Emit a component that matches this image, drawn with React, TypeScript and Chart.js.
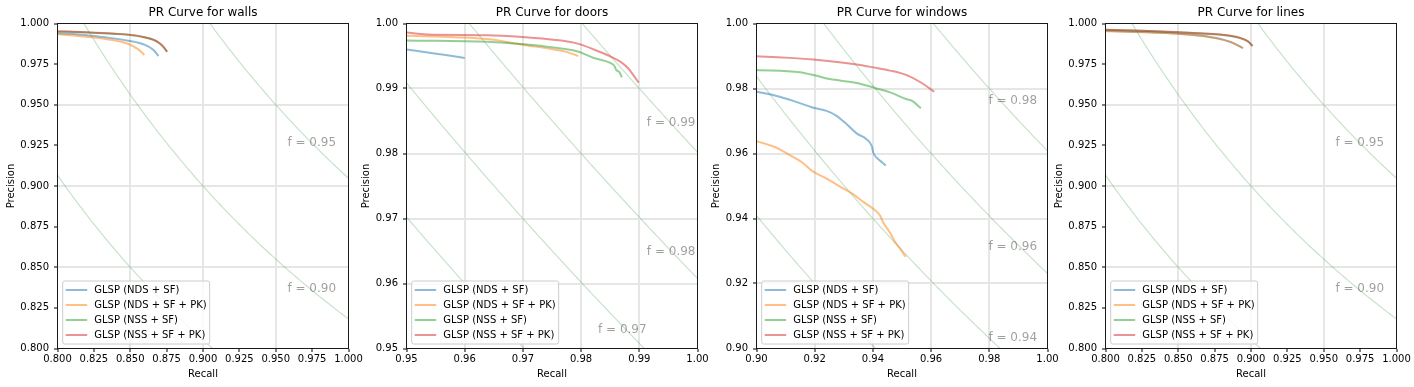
import React, { useEffect, useRef } from "react";
import { Chart, registerables } from "chart.js";

Chart.register(...registerables);

const FONT = "'DejaVu Sans', sans-serif";

const SERIES_LABELS = [
  "GLSP (NDS + SF)",
  "GLSP (NDS + SF + PK)",
  "GLSP (NSS + SF)",
  "GLSP (NSS + SF + PK)",
];
const SERIES_COLORS = [
  "rgba(31,119,180,0.5)",
  "rgba(255,127,14,0.5)",
  "rgba(44,160,44,0.5)",
  "rgba(214,39,40,0.5)",
];

// ---------- walls ----------
const wallsTicks = [0.8, 0.825, 0.85, 0.875, 0.9, 0.925, 0.95, 0.975, 1.0];
const wallsFScores = [0.85, 0.9, 0.95];
const wallsNdsSfRecall = [0.8, 0.82, 0.8327, 0.8487, 0.8602, 0.866, 0.8694];
const wallsNdsSfPrecision = [0.994, 0.9928, 0.9915, 0.9894, 0.9868, 0.9837, 0.98];
const wallsNdsSfPkRecall = [0.8, 0.82, 0.8327, 0.8487, 0.8556, 0.8598];
const wallsNdsSfPkPrecision = [0.9935, 0.9918, 0.9905, 0.9874, 0.9841, 0.9806];
const wallsNssSfRecall = [0.8, 0.82, 0.84, 0.85, 0.86, 0.866, 0.87, 0.873, 0.8755];
const wallsNssSfPrecision = [0.995, 0.9945, 0.9936, 0.9929, 0.9914, 0.9899, 0.9878, 0.9853, 0.9825];
const wallsNssSfPkRecall = [0.8, 0.82, 0.84, 0.85, 0.86, 0.866, 0.87, 0.873, 0.8752];
const wallsNssSfPkPrecision = [0.9952, 0.9946, 0.9937, 0.993, 0.9916, 0.99, 0.988, 0.9855, 0.9827];

// ---------- doors ----------
const doorsTicks = [0.95, 0.96, 0.97, 0.98, 0.99, 1.0];
const doorsFScores = [0.96, 0.97, 0.98, 0.99];
const doorsNdsSfRecall = [0.95, 0.9548, 0.957, 0.96];
const doorsNdsSfPrecision = [0.996, 0.9954, 0.9951, 0.9947];
const doorsNdsSfPkRecall = [0.95, 0.955, 0.9583, 0.9639, 0.9702, 0.9753, 0.9776, 0.9795];
const doorsNdsSfPkPrecision = [0.9981, 0.998, 0.9979, 0.9976, 0.9967, 0.996, 0.9956, 0.995];
const doorsNssSfRecall = [0.95, 0.9639, 0.9702, 0.9753, 0.9794, 0.9822, 0.9851, 0.9857, 0.986, 0.9866, 0.987];
const doorsNssSfPrecision = [0.9974, 0.9972, 0.9968, 0.9963, 0.9957, 0.9947, 0.9939, 0.9935, 0.9929, 0.9925, 0.9917];
const doorsNssSfPkRecall = [0.95, 0.9535, 0.9639, 0.9702, 0.9753, 0.9794, 0.9822, 0.9851, 0.9868, 0.9882, 0.9891, 0.9899];
const doorsNssSfPkPrecision = [0.9986, 0.9983, 0.9982, 0.9979, 0.9975, 0.9969, 0.996, 0.9949, 0.9941, 0.993, 0.9919, 0.9909];

// ---------- windows ----------
const windowsTicks = [0.9, 0.92, 0.94, 0.96, 0.98, 1.0];
const windowsFScores = [0.92, 0.94, 0.96, 0.98];
const windowsNdsSfRecall = [0.9, 0.9069, 0.9126, 0.9195, 0.9241, 0.9275, 0.931, 0.9344, 0.9378, 0.9396, 0.9401, 0.9413, 0.943, 0.9444];
const windowsNdsSfPrecision = [0.979, 0.9777, 0.9762, 0.9741, 0.9731, 0.9716, 0.969, 0.9662, 0.9644, 0.9623, 0.9603, 0.9587, 0.9574, 0.9563];
const windowsNdsSfPkRecall = [0.9, 0.9063, 0.9103, 0.9155, 0.9195, 0.9241, 0.9287, 0.9333, 0.9367, 0.9401, 0.9424, 0.9436, 0.9459, 0.9476, 0.9493, 0.9505, 0.9513];
const windowsNdsSfPkPrecision = [0.9638, 0.962, 0.9601, 0.9574, 0.9544, 0.9523, 0.9498, 0.9474, 0.9451, 0.943, 0.941, 0.9387, 0.9356, 0.9328, 0.9308, 0.9292, 0.9282];
const windowsNssSfRecall = [0.9, 0.9149, 0.9206, 0.9252, 0.9344, 0.9413, 0.9459, 0.9516, 0.9535, 0.9565];
const windowsNssSfPrecision = [0.9857, 0.985, 0.9839, 0.9829, 0.9817, 0.98, 0.9788, 0.9767, 0.9762, 0.9739];
const windowsNssSfPkRecall = [0.9, 0.91, 0.9195, 0.9344, 0.9401, 0.946, 0.9516, 0.9562, 0.9611];
const windowsNssSfPkPrecision = [0.9899, 0.9895, 0.9889, 0.9874, 0.9865, 0.9855, 0.9841, 0.982, 0.979];

// ---------- lines ----------
const linesTicks = [0.8, 0.825, 0.85, 0.875, 0.9, 0.925, 0.95, 0.975, 1.0];
const linesFScores = [0.85, 0.9, 0.95];
const linesNdsSfRecall = [0.8, 0.825, 0.849, 0.865, 0.879, 0.886, 0.891, 0.8945];
const linesNdsSfPrecision = [0.9955, 0.9948, 0.9938, 0.9926, 0.9905, 0.9886, 0.9866, 0.9849];
const linesNdsSfPkRecall = [0.8, 0.825, 0.849, 0.865, 0.879, 0.886, 0.891, 0.8942];
const linesNdsSfPkPrecision = [0.9953, 0.9946, 0.9937, 0.9925, 0.9904, 0.9885, 0.9865, 0.9848];
const linesNssSfRecall = [0.8, 0.825, 0.849, 0.865, 0.879, 0.887, 0.893, 0.898, 0.9012];
const linesNssSfPrecision = [0.9961, 0.9955, 0.9946, 0.9939, 0.9931, 0.9922, 0.9909, 0.9889, 0.9861];
const linesNssSfPkRecall = [0.8, 0.825, 0.849, 0.865, 0.879, 0.887, 0.893, 0.898, 0.901];
const linesNssSfPkPrecision = [0.9962, 0.9956, 0.9947, 0.994, 0.9932, 0.9923, 0.991, 0.989, 0.9862];

type Label = { text: string; x: number; y: number };
type PanelCfg = {
  title: string;
  min: number;
  max: number;
  ticks: number[];
  decimals: number;
  fScores: number[];
  fLabels: Label[];
  series: [number[], number[]][];
};

const PANELS: PanelCfg[] = [
  {
    title: "PR Curve for walls",
    min: 0.8,
    max: 1.0,
    ticks: wallsTicks,
    decimals: 3,
    fScores: wallsFScores,
    fLabels: [
      { text: "f = 0.95", x: 0.958, y: 0.9266 },
      { text: "f = 0.90", x: 0.958, y: 0.8368 },
    ],
    series: [
      [wallsNdsSfRecall, wallsNdsSfPrecision],
      [wallsNdsSfPkRecall, wallsNdsSfPkPrecision],
      [wallsNssSfRecall, wallsNssSfPrecision],
      [wallsNssSfPkRecall, wallsNssSfPkPrecision],
    ],
  },
  {
    title: "PR Curve for doors",
    min: 0.95,
    max: 1.0,
    ticks: doorsTicks,
    decimals: 2,
    fScores: doorsFScores,
    fLabels: [
      { text: "f = 0.99", x: 0.9913, y: 0.9847 },
      { text: "f = 0.98", x: 0.9913, y: 0.9649 },
      { text: "f = 0.97", x: 0.9829, y: 0.9529 },
    ],
    series: [
      [doorsNdsSfRecall, doorsNdsSfPrecision],
      [doorsNdsSfPkRecall, doorsNdsSfPkPrecision],
      [doorsNssSfRecall, doorsNssSfPrecision],
      [doorsNssSfPkRecall, doorsNssSfPkPrecision],
    ],
  },
  {
    title: "PR Curve for windows",
    min: 0.9,
    max: 1.0,
    ticks: windowsTicks,
    decimals: 2,
    fScores: windowsFScores,
    fLabels: [
      { text: "f = 0.98", x: 0.9797, y: 0.9763 },
      { text: "f = 0.96", x: 0.9797, y: 0.9313 },
      { text: "f = 0.94", x: 0.9797, y: 0.9033 },
    ],
    series: [
      [windowsNdsSfRecall, windowsNdsSfPrecision],
      [windowsNdsSfPkRecall, windowsNdsSfPkPrecision],
      [windowsNssSfRecall, windowsNssSfPrecision],
      [windowsNssSfPkRecall, windowsNssSfPkPrecision],
    ],
  },
  {
    title: "PR Curve for lines",
    min: 0.8,
    max: 1.0,
    ticks: linesTicks,
    decimals: 3,
    fScores: linesFScores,
    fLabels: [
      { text: "f = 0.95", x: 0.958, y: 0.9266 },
      { text: "f = 0.90", x: 0.958, y: 0.8368 },
    ],
    series: [
      [linesNdsSfRecall, linesNdsSfPrecision],
      [linesNdsSfPkRecall, linesNdsSfPkPrecision],
      [linesNssSfRecall, linesNssSfPrecision],
      [linesNssSfPkRecall, linesNssSfPkPrecision],
    ],
  },
];

const W = 1414;
const H = 387;
const PLOT_LEFTS = [57.5, 406.5, 756.5, 1105.5];
const PLOT_W = 291;
const PLOT_TOP = 23.5;
const PLOT_BOTTOM = 348.5;
const Y_AXIS_W = 50;
const X_AXIS_H = 30;

function isoF(f: number, min: number, max: number) {
  const pts: { x: number; y: number }[] = [];
  const n = 120;
  for (let i = 0; i <= n; i++) {
    const r = min + ((max - min) * i) / n;
    const d = 2 * r - f;
    if (d <= 0) continue;
    pts.push({ x: r, y: (f * r) / d });
  }
  return pts;
}

function makeDecor(cfg: PanelCfg) {
  return {
    id: "decor",
    afterDatasetsDraw(chart: any) {
      const { ctx, chartArea: a, scales } = chart;
      ctx.save();
      ctx.font = `12px ${FONT}`;
      ctx.fillStyle = "rgba(0,0,0,0.38)";
      ctx.textAlign = "left";
      ctx.textBaseline = "middle";
      cfg.fLabels.forEach((l) => {
        ctx.fillText(l.text, scales.x.getPixelForValue(l.x), scales.y.getPixelForValue(l.y));
      });
      ctx.strokeStyle = "#1a1a1a";
      ctx.lineWidth = 1;
      ctx.strokeRect(a.left, a.top, a.right - a.left, a.bottom - a.top);
      ctx.restore();
    },
    afterDraw(chart: any) {
      const { ctx, chartArea: a } = chart;
      ctx.save();
      // legend
      ctx.font = `10px ${FONT}`;
      const textW = Math.max(...SERIES_LABELS.map((t) => ctx.measureText(t).width));
      const bx = a.left + 5.2;
      const textX = bx + 31.6;
      const bw = textX + textW + 3 - bx;
      const bh = 63;
      const by = a.bottom - 4.5 - bh;
      const r = 2;
      ctx.beginPath();
      ctx.moveTo(bx + r, by);
      ctx.lineTo(bx + bw - r, by);
      ctx.arcTo(bx + bw, by, bx + bw, by + r, r);
      ctx.lineTo(bx + bw, by + bh - r);
      ctx.arcTo(bx + bw, by + bh, bx + bw - r, by + bh, r);
      ctx.lineTo(bx + r, by + bh);
      ctx.arcTo(bx, by + bh, bx, by + bh - r, r);
      ctx.lineTo(bx, by + r);
      ctx.arcTo(bx, by, bx + r, by, r);
      ctx.closePath();
      ctx.fillStyle = "rgba(255,255,255,0.8)";
      ctx.fill();
      ctx.strokeStyle = "#cccccc";
      ctx.lineWidth = 1;
      ctx.stroke();
      ctx.textAlign = "left";
      ctx.textBaseline = "middle";
      SERIES_LABELS.forEach((t, i) => {
        const yy = by + 9 + i * 15;
        ctx.strokeStyle = SERIES_COLORS[i];
        ctx.lineWidth = 2;
        ctx.beginPath();
        ctx.moveTo(bx + 3, yy);
        ctx.lineTo(bx + 24.5, yy);
        ctx.stroke();
        ctx.fillStyle = "#000";
        ctx.fillText(t, textX, yy);
      });
      // title
      ctx.font = `12px ${FONT}`;
      ctx.textAlign = "center";
      ctx.fillStyle = "#000";
      ctx.fillText(cfg.title, (a.left + a.right) / 2, 12.5);
      // axis labels
      ctx.font = `10px ${FONT}`;
      ctx.fillText("Recall", (a.left + a.right) / 2, 374.5);
      const tickW = Math.max(...cfg.ticks.map((v) => ctx.measureText(v.toFixed(cfg.decimals)).width));
      const px = a.left - 8.5 - tickW - 9.4;
      ctx.translate(px, (a.top + a.bottom) / 2);
      ctx.rotate(-Math.PI / 2);
      ctx.fillText("Precision", 0, 0);
      ctx.restore();
    },
  };
}

function Panel({ cfg, index }: { cfg: PanelCfg; index: number }) {
  const ref = useRef<HTMLCanvasElement>(null);
  useEffect(() => {
    if (!ref.current) return;
    const plotLeft = PLOT_LEFTS[index];
    const plotRight = plotLeft + PLOT_W;
    const isGrid = (v: any) => typeof v === "number" && cfg.fScores.some((f) => Math.abs(f - v) < 1e-9);
    const fSets = cfg.fScores.map((f) => ({
      data: isoF(f, cfg.min, cfg.max),
      showLine: true,
      borderColor: "rgba(0,128,0,0.22)",
      borderWidth: 1.2,
      pointRadius: 0,
      order: 10,
    }));
    const sSets = cfg.series.map(([rx, py], i) => ({
      label: SERIES_LABELS[i],
      data: rx.map((x, k) => ({ x, y: py[k] })),
      showLine: true,
      borderColor: SERIES_COLORS[i],
      borderWidth: 2,
      pointRadius: 0,
      cubicInterpolationMode: "monotone" as const,
      order: 4 - i,
    }));
    const axis = (isX: boolean) => ({
      type: "linear" as const,
      min: cfg.min,
      max: cfg.max,
      afterFit: (s: any) => {
        if (isX) s.height = X_AXIS_H;
        else s.width = Y_AXIS_W;
      },
      afterBuildTicks: (s: any) => {
        s.ticks = cfg.ticks.map((v) => ({ value: v }));
      },
      ticks: {
        autoSkip: false,
        maxRotation: 0,
        minRotation: 0,
        padding: isX ? 1.5 : 5,
        color: "#000",
        font: { family: FONT, size: 10 },
        callback: (v: any) => Number(v).toFixed(cfg.decimals),
      },
      grid: {
        color: (c: any) => (isGrid(c.tick && c.tick.value) ? "#e6e6e6" : "rgba(0,0,0,0)"),
        lineWidth: 2,
        drawTicks: true,
        tickLength: 3.5,
        tickColor: "#000",
        tickWidth: 1,
      },
      border: { display: false },
    });
    const chart = new Chart(ref.current, {
      type: "scatter",
      data: { datasets: [...sSets, ...fSets] as any },
      options: {
        responsive: false,
        animation: false,
        devicePixelRatio: 1,
        layout: {
          padding: {
            left: plotLeft - Y_AXIS_W,
            right: W - plotRight,
            top: PLOT_TOP,
            bottom: H - PLOT_BOTTOM - X_AXIS_H,
          },
        },
        plugins: {
          legend: { display: false },
          tooltip: { enabled: false },
          title: { display: false },
        },
        scales: { x: axis(true) as any, y: axis(false) as any },
      },
      plugins: [makeDecor(cfg)],
    });
    return () => chart.destroy();
  }, []);
  return (
    <canvas
      ref={ref}
      width={W}
      height={H}
      style={{ position: "absolute", left: 0, top: 0, width: W, height: H }}
    />
  );
}

export default function App() {
  return (
    <div
      style={{
        position: "absolute",
        left: 0,
        top: 0,
        width: W,
        height: H,
        background: "#fff",
        overflow: "hidden",
      }}
    >
      {PANELS.map((p, i) => (
        <Panel key={i} cfg={p} index={i} />
      ))}
    </div>
  );
}
